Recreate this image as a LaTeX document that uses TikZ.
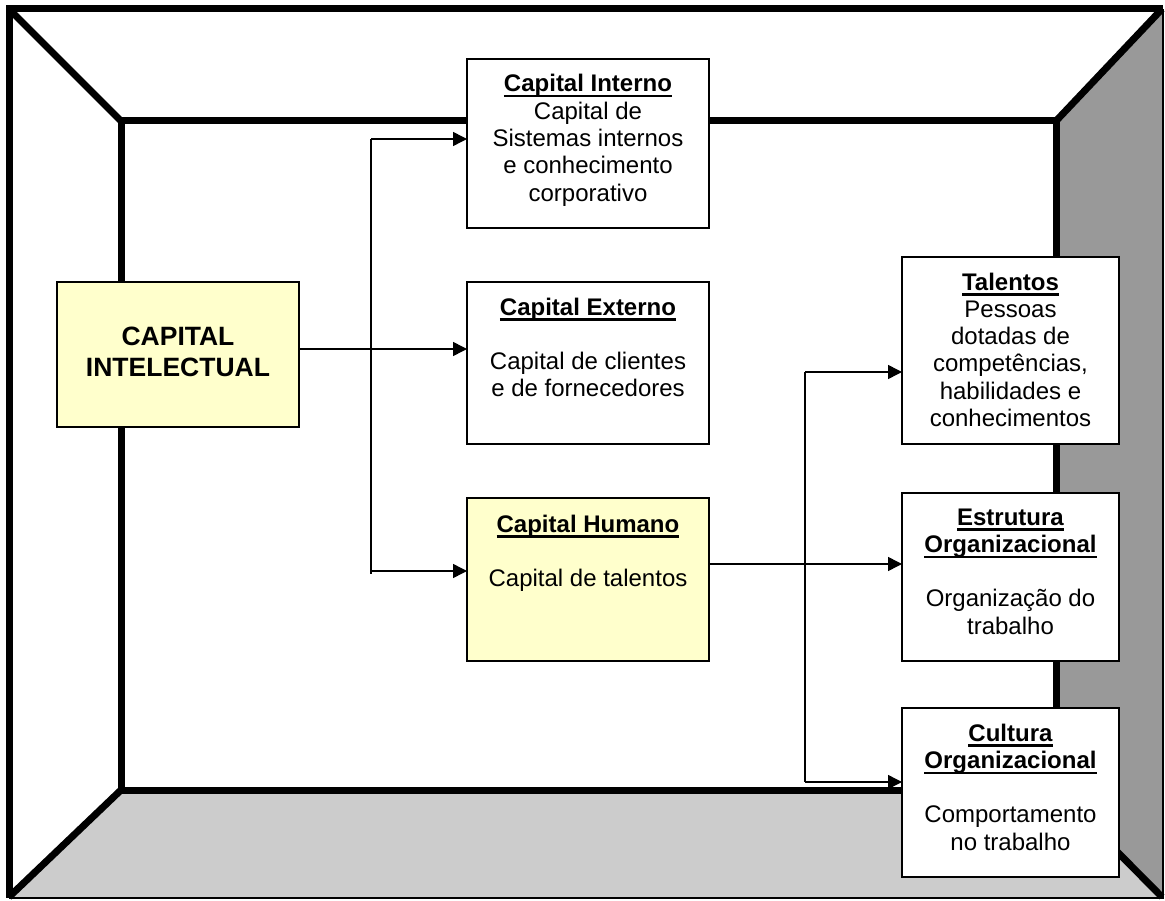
\documentclass[tikz,border=0pt]{standalone}
\usepackage{fontspec}
\setmainfont{Liberation Sans}
\usetikzlibrary{arrows.meta}

\definecolor{notepaper}{HTML}{FFFFCC}
\definecolor{wallgray}{HTML}{999999}
\definecolor{floorgray}{HTML}{CCCCCC}

% underlined heading with a heavy rule
\newcommand\ulbox[1]{\leavevmode\setbox0\hbox{#1}\rlap{\copy0}\rule[-5.5pt]{\wd0}{2.2pt}}

% fixed-size centred text block: width, height, first baseline from top, font setup, lines
\newcommand\cardtext[5]{%
  \vbox to #2{\hsize=#1\relax
    #4\selectfont
    \parindent=0pt \parskip=0pt \centering
    \vskip\dimexpr#3-\baselineskip\relax
    \hbox{}%
    #5\par
    \vfil}}

\newcommand\bodyfont{\fontsize{24pt}{27.3pt}}
\newcommand\bigfont{\fontsize{26.5pt}{31.8pt}\bfseries}

\tikzset{
  wall/.style={line width=7pt},
  rim/.style={line width=1.5pt},
  card/.style={draw=black, line width=1.5pt, fill=white, inner sep=0pt, outer sep=0pt, anchor=north west},
  notecard/.style={card, fill=notepaper},
  link/.style={line width=1.5pt},
  arr/.style={link, -{Triangle[length=14pt,width=14pt]}}
}

\begin{document}
\begin{tikzpicture}[x=1pt,y=-1pt]
\useasboundingbox (0,0) rectangle (1165,901);
\fill[white] (0,0) rectangle (1165,901);

% room: floor and right wall
\fill[floorgray] (121,790) -- (1056,790) -- (1162,897) -- (9,897) -- cycle;
\fill[wallgray] (1056,121) -- (1162,9) -- (1162,897) -- (1056,790) -- cycle;

% outer thin edges (right, bottom)
\draw[rim] (1163,9) -- (1163,898) -- (9,898);

% heavy outline: outer top and left, corner diagonals, back wall
\draw[wall] (1163,9) -- (9,9) -- (9,898);
\draw[wall] (9,9) -- (121,121);
\draw[wall] (1162,9) -- (1056,121);
\draw[wall] (9,897) -- (121,790);
\draw[wall] (1056,790) -- (1162,897);
\draw[wall] (121,121) rectangle (1056,790);

% boxes
\node[notecard] (ci) at (57,282)
  {\cardtext{242pt}{145pt}{63pt}{\bigfont}{CAPITAL\\INTELECTUAL}};

\node[card] (interno) at (467,59)
  {\cardtext{242pt}{169pt}{33pt}{\bodyfont}{\ulbox{\textbf{Capital Interno}}\\Capital de\\Sistemas internos\\e conhecimento\\corporativo}};

\node[card] (externo) at (467,282)
  {\cardtext{242pt}{162pt}{33pt}{\bodyfont}{\ulbox{\textbf{Capital Externo}}\\[27.3pt]Capital de clientes\\e de fornecedores}};

\node[notecard] (humano) at (467,498)
  {\cardtext{242pt}{163pt}{34pt}{\bodyfont}{\ulbox{\textbf{Capital Humano}}\\[27.3pt]Capital de talentos}};

\node[card] (talentos) at (902,257)
  {\cardtext{217pt}{187pt}{33pt}{\bodyfont}{\ulbox{\textbf{Talentos}}\\Pessoas\\dotadas de\\competências,\\habilidades e\\conhecimentos}};

\node[card] (estrutura) at (902,493)
  {\cardtext{217pt}{168pt}{32pt}{\bodyfont}{\ulbox{\textbf{Estrutura}}\\\ulbox{\textbf{Organizacional}}\\[27.3pt]Organização do\\trabalho}};

\node[card] (cultura) at (902,708)
  {\cardtext{217pt}{169pt}{33pt}{\bodyfont}{\ulbox{\textbf{Cultura}}\\\ulbox{\textbf{Organizacional}}\\[27.3pt]Comportamento\\no trabalho}};

% left distribution bus
\coordinate (lbtop) at (371,139);
\coordinate (lbmid) at (371,349);
\coordinate (lbhum) at (371,571);
\coordinate (lbbot) at (371,574);
\draw[link] (lbtop) -- (lbbot);
\draw[arr] (lbtop) -- (interno.west |- lbtop);
\draw[arr] (ci.east |- lbmid) -- (externo.west |- lbmid);
\draw[arr] (lbhum) -- (humano.west |- lbhum);

% right distribution bus
\coordinate (rbtop) at (805,372);
\coordinate (rbmid) at (805,564);
\coordinate (rbbot) at (805,782);
\draw[link] (rbtop) -- (rbbot);
\draw[arr] (rbtop) -- (talentos.west |- rbtop);
\draw[arr] (humano.east |- rbmid) -- (estrutura.west |- rbmid);
\draw[arr] (rbbot) -- (cultura.west |- rbbot);
\end{tikzpicture}
\end{document}
